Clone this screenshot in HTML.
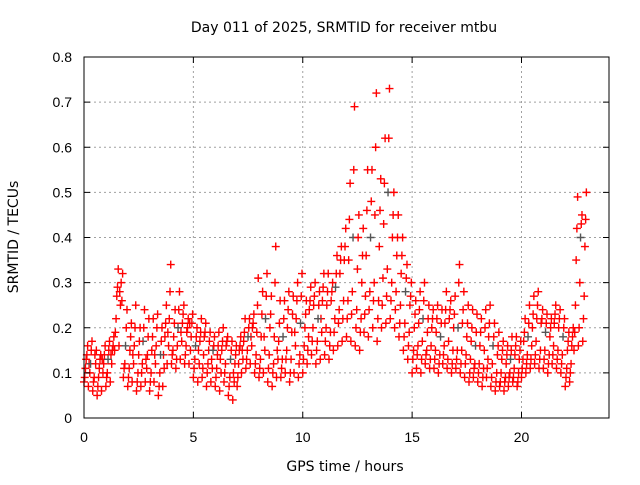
<!DOCTYPE html>
<html><head><meta charset="utf-8"><style>
body{margin:0;background:#fff}
svg text{font-family:"Liberation Sans",sans-serif;font-size:14px;fill:#000}
svg text.ttl{font-family:"DejaVu Sans",sans-serif;font-size:14px}
</style></head><body>
<svg width="640" height="480" id="c">
<text class="ttl" x="344" y="32" text-anchor="middle">Day 011 of 2025, SRMTID for receiver mtbu</text>
<text class="ttl" x="345" y="471" text-anchor="middle">GPS time / hours</text>
<text class="ttl" transform="translate(18,237) rotate(-90)" text-anchor="middle">SRMTID / TECUs</text>
<g id="grid"></g>
<g id="pts"></g>
<g id="axes"></g>
</svg>
<script>
const xTicks=[0,5,10,15,20];
const yTicks=[0,0.1,0.2,0.3,0.4,0.5,0.6,0.7,0.8];
const yTickLabels=["0","0.1","0.2","0.3","0.4","0.5","0.6","0.7","0.8"];
const times=[0,0.2,0.4,0.6,0.8,1,1.2,1.4,1.6,1.8,2,2.2,2.4,2.6,2.8,3,3.2,3.4,3.6,3.8,4,4.2,4.4,4.6,4.8,5,5.2,5.4,5.6,5.8,6,6.2,6.4,6.6,6.8,7,7.2,7.4,7.6,7.8,8,8.2,8.4,8.6,8.8,9,9.2,9.4,9.6,9.8,10,10.2,10.4,10.6,10.8,11,11.2,11.4,11.6,11.8,12,12.2,12.4,12.6,12.8,13,13.2,13.4,13.6,13.8,14,14.2,14.4,14.6,14.8,15,15.2,15.4,15.6,15.8,16,16.2,16.4,16.6,16.8,17,17.2,17.4,17.6,17.8,18,18.2,18.4,18.6,18.8,19,19.2,19.4,19.6,19.8,20,20.2,20.4,20.6,20.8,21,21.2,21.4,21.6,21.8,22,22.2,22.4,22.6,22.8];
const seriesLow=[.08,.07,.06,.05,.06,.07,.08,.15,.16,.09,.07,.08,.06,.07,.08,.06,.08,.05,.07,.12,.12,.11,.13,.12,.12,.09,.08,.09,.07,.08,.07,.06,.08,.05,.04,.07,.10,.11,.12,.10,.09,.10,.08,.07,.09,.09,.10,.08,.10,.09,.10,.12,.14,.12,.13,.14,.13,.15,.16,.17,.18,.17,.16,.15,.19,.18,.20,.17,.20,.21,.22,.20,.18,.15,.13,.10,.11,.10,.12,.11,.11,.10,.12,.11,.10,.11,.10,.09,.08,.09,.08,.07,.09,.07,.06,.07,.06,.07,.08,.07,.09,.10,.11,.12,.11,.11,.10,.12,.11,.10,.07,.08,.15,.16,.17];
const seriesExtra1=[.09,.12,.08,.07,.13,.09,.14,.19,.28,.11,.09,.14,.08,.10,.13,.08,.14,.07,.14,.19,.14,.13,.19,.14,.21,.11,.15,.11,.10,.13,.09,.13,.10,.07,.10,.09,.15,.13,.18,.12,.11,.18,.11,.10,.15,.11,.13,.10,.19,.12,.13,.15,.17,.15,.22,.17,.16,.19,.21,.22,.22,.23,.20,.19,.23,.24,.26,.22,.25,.27,.26,.24,.21,.18,.16,.13,.14,.13,.14,.13,.13,.12,.14,.13,.12,.13,.12,.12,.10,.11,.10,.09,.11,.09,.08,.08,.08,.09,.09,.08,.11,.12,.13,.14,.13,.13,.12,.14,.13,.12,.09,.10,.19,.20,.22];
const seriesMid1=[.11,.10,.09,.09,.10,.10,.12,.22,.25,.12,.11,.12,.10,.12,.11,.10,.12,.10,.11,.16,.15,.16,.17,.16,.15,.13,.12,.14,.12,.11,.11,.10,.12,.09,.08,.12,.13,.15,.16,.14,.13,.15,.14,.12,.13,.13,.15,.13,.16,.14,.16,.18,.20,.17,.19,.20,.19,.22,.24,.26,.26,.28,.24,.22,.27,.28,.30,.26,.31,.33,.30,.28,.25,.21,.19,.15,.16,.17,.15,.16,.15,.14,.16,.17,.15,.15,.15,.14,.13,.12,.12,.11,.13,.12,.10,.10,.09,.10,.11,.10,.13,.14,.16,.17,.15,.15,.14,.16,.15,.14,.11,.12,.25,.30,.27];
const seriesMid2=[.13,.12,.14,.11,.12,.13,.15,.27,.30,.16,.15,.16,.14,.17,.14,.15,.16,.14,.18,.22,.18,.20,.21,.19,.18,.16,.17,.18,.15,.15,.14,.15,.16,.13,.12,.15,.17,.18,.20,.19,.18,.22,.20,.18,.17,.18,.20,.19,.22,.21,.20,.24,.25,.22,.26,.25,.26,.29,.32,.35,.35,.40,.33,.30,.36,.40,.45,.38,.43,.50,.40,.36,.32,.28,.25,.20,.21,.22,.19,.20,.19,.18,.21,.22,.20,.20,.21,.18,.17,.16,.16,.15,.18,.16,.14,.13,.12,.13,.14,.13,.17,.18,.20,.22,.21,.19,.18,.21,.20,.18,.15,.16,.35,.40,.38];
const seriesExtra2=[.14,.15,.12,.13,.14,.15,.16,.29,.26,.20,.18,.20,.17,.20,.18,.18,.20,.17,.21,.28,.21,.24,.23,.20,.21,.18,.19,.19,.17,.16,.16,.17,.17,.15,.14,.16,.19,.20,.21,.25,.23,.27,.23,.30,.21,.22,.24,.23,.26,.27,.23,.26,.27,.25,.29,.28,.28,.32,.35,.38,.44,.55,.40,.36,.46,.48,.60,.46,.52,.62,.45,.40,.36,.31,.27,.23,.24,.26,.22,.22,.22,.21,.24,.24,.23,.30,.24,.21,.20,.19,.19,.20,.21,.18,.16,.15,.14,.15,.16,.15,.19,.21,.23,.25,.22,.21,.20,.23,.22,.20,.17,.18,.42,.43,.44];
const seriesHigh=[.16,.17,.15,.14,.16,.17,.18,.33,.32,.24,.21,.25,.20,.24,.22,.22,.23,.20,.25,.34,.24,.28,.25,.22,.23,.20,.22,.21,.19,.18,.19,.20,.18,.17,.16,.18,.22,.22,.23,.31,.28,.32,.27,.38,.26,.26,.28,.27,.30,.32,.26,.29,.30,.28,.32,.32,.30,.36,.38,.42,.52,.69,.45,.42,.55,.55,.72,.53,.62,.73,.50,.45,.40,.34,.30,.26,.28,.30,.25,.24,.25,.24,.28,.26,.27,.34,.28,.25,.24,.23,.22,.24,.25,.21,.19,.17,.16,.18,.18,.17,.22,.25,.27,.28,.24,.23,.22,.25,.24,.22,.19,.20,.49,.45,.50];
const allSeries=[seriesLow,seriesExtra1,seriesMid1,seriesMid2,seriesExtra2,seriesHigh];
const X0=84,X1=609,Y0=418,Y1=57;
function xs(t){return X0+(t/24)*(X1-X0);}
function ys(v){return Y0-(v/0.8)*(Y0-Y1);}
const NS="http://www.w3.org/2000/svg";
function mk(tag,attrs,parent){const e=document.createElementNS(NS,tag);for(const k in attrs)e.setAttribute(k,attrs[k]);parent.appendChild(e);return e;}
const grid=document.getElementById('grid'),axes=document.getElementById('axes'),pts=document.getElementById('pts');
xTicks.forEach(t=>{const x=xs(t);
 if(t>0){const g=mk('line',{x1:x,x2:x,y1:Y0,y2:Y1,stroke:'#a0a0a0','stroke-dasharray':'2,3'},grid);}
 const tk=mk('line',{x1:x,x2:x,y1:Y0,y2:Y0-6,stroke:'#000'},axes);
 const tk2=mk('line',{x1:x,x2:x,y1:Y1,y2:Y1+6,stroke:'#000'},axes);
 const l=mk('text',{x:x,y:Y0+24,'text-anchor':'middle'},axes);l.textContent=String(t);});
yTicks.forEach((v,i)=>{const y=ys(v);
 if(v>0&&v<0.8){const g=mk('line',{x1:X0,x2:X1,y1:y,y2:y,stroke:'#a0a0a0','stroke-dasharray':'2,3'},grid);}
 const tk=mk('line',{x1:X0,x2:X0+6,y1:y,y2:y,stroke:'#000'},axes);
 const tk2=mk('line',{x1:X1,x2:X1-6,y1:y,y2:y,stroke:'#000'},axes);
 const l=mk('text',{x:X0-12,y:y+5,'text-anchor':'end'},axes);l.textContent=yTickLabels[i];});
const fr=mk('rect',{x:X0,y:Y1,width:X1-X0,height:Y0-Y1,fill:'none',stroke:'#000'},axes);


allSeries.forEach((s,k)=>{s.forEach((v,i)=>{const x=xs(times[i]+0.033*k),y=ys(v);
 const col=(k===3&&i%4===1)?'#555':'#ff0000';
 const p=mk('path',{d:`M${x-4},${y}H${x+4}M${x},${y-4}V${y+4}`,stroke:col,'stroke-width':1.4,fill:'none'},pts);
 
 });});
</script>
</body></html>
